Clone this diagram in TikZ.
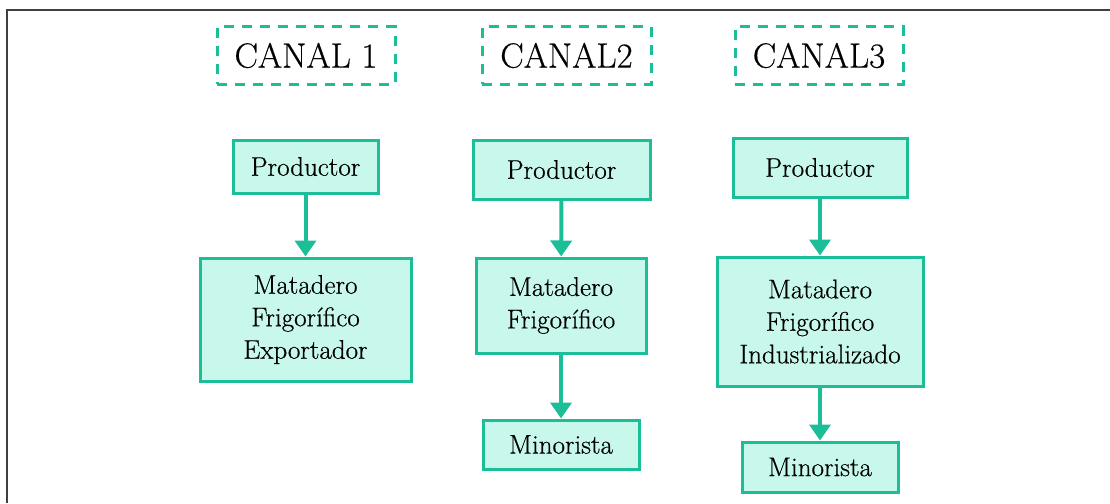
\documentclass[tikz,border=0pt]{standalone}
\usepackage{fontspec}
\setmainfont{Latin Modern Roman}[FakeBold=0.5]
\usetikzlibrary{arrows.meta}
\definecolor{canalgreen}{RGB}{28,190,152}
\definecolor{canalfill}{RGB}{200,248,236}
\tikzset{
  canal/.style={draw=canalgreen, line width=3pt, dash pattern=on 10pt off 8pt,
    font=\fontsize{35}{37}\selectfont, inner sep=0pt},
  box/.style={draw=canalgreen, fill=canalfill, line width=3pt, align=center,
    font=\fontsize{27}{32.5}\selectfont, inner sep=0pt},
  flow/.style={draw=canalgreen, line width=4pt,
    -{Triangle[length=16pt,width=21pt,fill=canalgreen]}}
}

\begin{document}
\begin{tikzpicture}[x=1pt,y=-1pt]
  \useasboundingbox (0,0) rectangle (1110,503);
  \draw[line width=2pt, black!75] (7,503) -- (7,10.5) -- (1110,10.5);

  % canal 1
  \node[canal, minimum width=178pt, minimum height=57pt] (canalA) at (306,55.5) {CANAL 1};
  \node[box, minimum width=145pt, minimum height=53pt] (prodA) at (305.5,166.5) {Productor};
  \node[box, minimum width=211pt, minimum height=123pt] (matA) at (305.5,319.5)
    {Matadero\\Frigorífico\\Exportador};

  % canal 2
  \node[canal, minimum width=169pt, minimum height=57pt] (canalB) at (566.5,55.5) {CANAL2};
  \node[box, minimum width=177pt, minimum height=59pt] (prodB) at (561.5,169.5) {Productor};
  \node[box, minimum width=170pt, minimum height=95pt] (matB) at (561,305.5)
    {Matadero\\Frigorífico};
  \node[box, minimum width=156pt, minimum height=49pt] (minB) at (561,444.5) {Minorista};

  % canal 3
  \node[canal, minimum width=168pt, minimum height=57pt] (canalC) at (819,55.5) {CANAL3};
  \node[box, minimum width=174pt, minimum height=59pt] (prodC) at (820,167.5) {Productor};
  \node[box, minimum width=206pt, minimum height=129pt] (matC) at (820,321.5)
    {Matadero\\Frigorífico\\Industrializado};
  \node[box, minimum width=156pt, minimum height=50pt] (minC) at (820,467) {Minorista};

  \draw[flow] (prodA) -- (matA);
  \draw[flow] (prodB) -- (matB);
  \draw[flow] (matB) -- (minB);
  \draw[flow] (prodC) -- (matC);
  \draw[flow] (matC) -- (minC);
\end{tikzpicture}
\end{document}
